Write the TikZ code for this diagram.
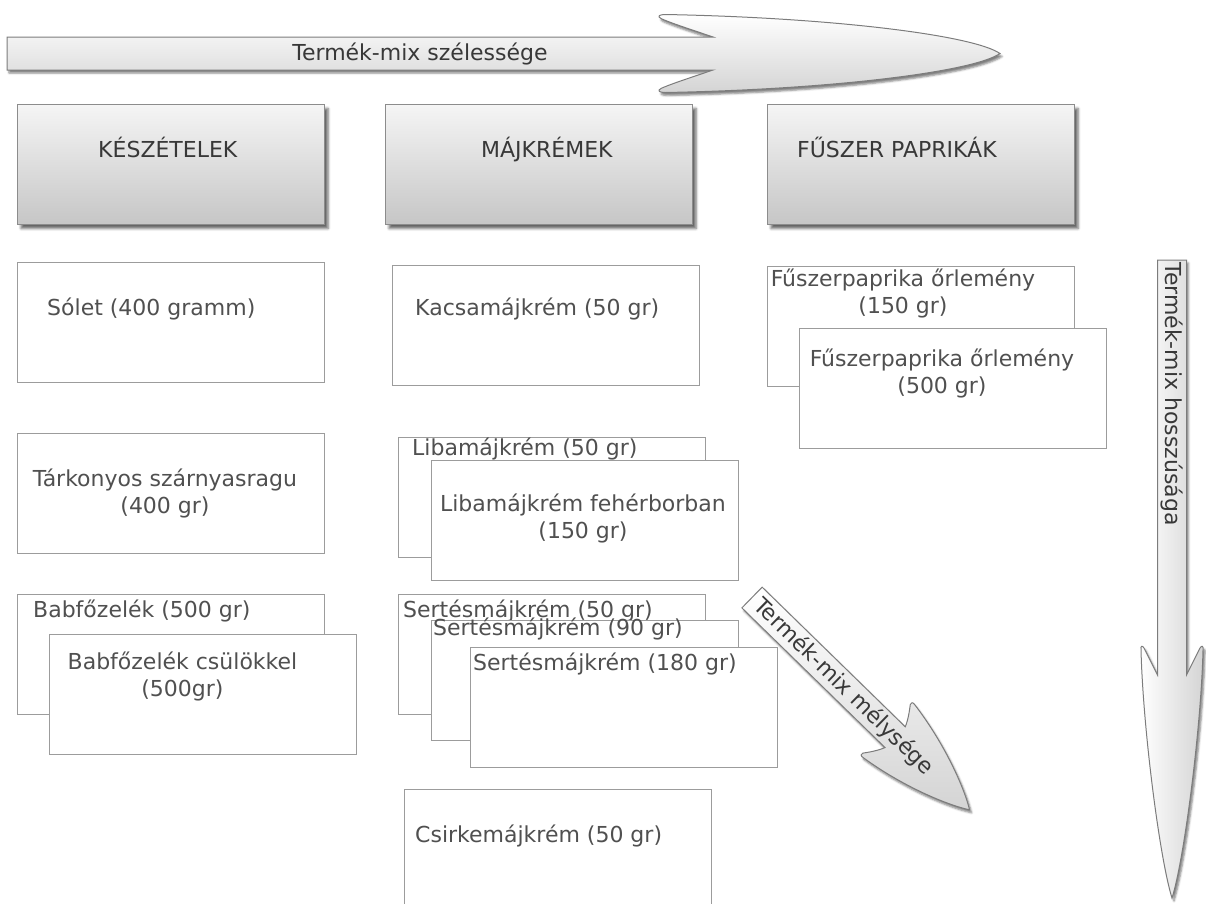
\documentclass[tikz,border=0pt]{standalone}
\usepackage{fontspec}
\setmainfont{DejaVu Sans}
\usetikzlibrary{shadows.blur}
\definecolor{bodyink}{HTML}{505050}
\definecolor{headink}{HTML}{383838}
\definecolor{boxline}{HTML}{9C9C9C}
\definecolor{headline}{HTML}{8C8C8C}
\definecolor{headlow}{HTML}{C6C6C6}
\definecolor{arrowline}{HTML}{7C7C7C}
\definecolor{arrowlow}{HTML}{D4D4D4}
\tikzset{
  itembox/.style={draw=boxline, fill=white, line width=1.2pt,
    minimum width=307pt, minimum height=120pt, inner sep=0pt, anchor=north west},
  headbox/.style={draw=headline, line width=1pt, top color=white!96!black,
    bottom color=headlow, minimum width=307pt, minimum height=120pt,
    inner sep=0pt, anchor=north west,
    blur shadow={shadow xshift=3.5pt, shadow yshift=-4pt,
      shadow blur radius=2.5pt, shadow opacity=60}},
  itemtext/.style={text=bodyink, font=\fontsize{22}{26.5}\selectfont, inner sep=0pt},
  headtext/.style={text=headink, font=\fontsize{22}{26.5}\selectfont,
    inner sep=0pt, anchor=base west},
  arrowbody/.style={draw=arrowline, line width=1pt,
    blur shadow={shadow xshift=2pt, shadow yshift=-3pt,
      shadow blur radius=2pt, shadow opacity=50}},
  arrowtext/.style={text=headink, font=\fontsize{22}{26.5}\selectfont,
    inner sep=0pt, transform shape}
}
\begin{document}
\begin{tikzpicture}[x=1pt, y=-1pt]
\useasboundingbox (0,0) rectangle (1206,903);

% category headers
\node[headbox] (kesz) at (17,104) {};
\node[headtext] (keszt) at (98,157) {KÉSZÉTELEK};
\node[headbox] (maj) at (385,104) {};
\node[headtext] (majt) at (481,157) {MÁJKRÉMEK};
\node[headbox] (fusz) at (767,104) {};
\node[headtext] (fuszt) at (797,157) {FŰSZER PAPRIKÁK};

% ready meals
\node[itembox] (solet) at (17,262) {};
\node[itemtext, anchor=base west] (solett) at (47,315) {Sólet (400 gramm)};
\node[itembox] (tark) at (17,433) {};
\node[itemtext, align=center] (tarkt) at (165,493.5) {Tárkonyos szárnyasragu\\(400 gr)};
\node[itembox] (bab1) at (17,594) {};
\node[itemtext, anchor=base west] (bab1t) at (33,617) {Babfőzelék (500 gr)};
\node[itembox] (bab2) at (49,634) {};
\node[itemtext, align=center] (bab2t) at (182.5,676.5) {Babfőzelék csülökkel\\(500gr)};

% liver pates
\node[itembox] (kacsa) at (392,265) {};
\node[itemtext, anchor=base west] (kacsat) at (415,315) {Kacsamájkrém (50 gr)};
\node[itembox] (liba1) at (398,437) {};
\node[itemtext, anchor=base west] (liba1t) at (412,455) {Libamájkrém (50 gr)};
\node[itembox] (liba2) at (431,460) {};
\node[itemtext, align=center] (liba2t) at (583,518.5) {Libamájkrém fehérborban\\(150 gr)};
\node[itembox] (sert1) at (398,594) {};
\node[itemtext, anchor=base west] (sert1t) at (403,617) {Sertésmájkrém (50 gr)};
\node[itembox] (sert2) at (431,620) {};
\node[itemtext, anchor=base west] (sert2t) at (433,635) {Sertésmájkrém (90 gr)};
\node[itembox] (sert3) at (470,647) {};
\node[itemtext, anchor=base west] (sert3t) at (473,670) {Sertésmájkrém (180 gr)};
\node[itembox] (csirke) at (404,789) {};
\node[itemtext, anchor=base west] (csirket) at (415,842) {Csirkemájkrém (50 gr)};

% paprika
\node[itembox] (pap1) at (767,266) {};
\node[itemtext, align=center] (pap1t) at (903,293.5) {Fűszerpaprika őrlemény\\(150 gr)};
\node[itembox] (pap2) at (799,328) {};
\node[itemtext, align=center] (pap2t) at (942,373.5) {Fűszerpaprika őrlemény\\(500 gr)};

% width arrow
\begin{scope}[shift={(7,53.5)}]
\path[arrowbody, top color=white, bottom color=arrowlow] (0,-16.5) -- (706,-16.5)
  .. controls (690,-22) and (662,-31) .. (654,-35)
  .. controls (650,-37) and (652,-39) .. (658,-39)
  .. controls (823,-36) and (966,-18.5) .. (993,0)
  .. controls (966,18.5) and (823,36) .. (658,39)
  .. controls (652,39) and (650,37) .. (654,35)
  .. controls (662,31) and (690,22) .. (706,16.5)
  -- (0,16.5) -- cycle;
\node[arrowtext] (widtht) at (413,0.5) {Termék-mix szélessége};
\end{scope}

% length arrow
\begin{scope}[shift={(1172,260)}, rotate=-90]
\path[arrowbody, left color=white, right color=arrowlow] (0,-14.5) -- (415,-14.5)
  .. controls (406,-19) and (394,-25) .. (388,-28)
  .. controls (385,-30) and (386,-31.5) .. (390,-31)
  .. controls (470,-29) and (600,-12) .. (638,0)
  .. controls (600,12) and (470,29) .. (390,31)
  .. controls (386,31.5) and (385,30) .. (388,28)
  .. controls (394,25) and (406,19) .. (415,14.5)
  -- (0,14.5) -- cycle;
\node[arrowtext] (lengtht) at (134,0) {Termék-mix hosszúsága};
\end{scope}

% depth arrow
\begin{scope}[shift={(752,597.5)}, rotate=-44.3]
\path[arrowbody, top color=white, bottom color=arrowlow] (0,-14.5) -- (200,-14.5)
  .. controls (197,-22) and (191,-30) .. (188,-34)
  .. controls (187,-36) and (188,-37.5) .. (191,-37)
  .. controls (240,-30) and (285,-12) .. (304,0)
  .. controls (285,12) and (240,30) .. (191,37)
  .. controls (188,37.5) and (187,36) .. (188,34)
  .. controls (191,30) and (197,22) .. (200,14.5)
  -- (0,14.5) -- cycle;
\node[arrowtext] (deptht) at (128,0) {Termék-mix mélysége};
\end{scope}
\end{tikzpicture}
\end{document}
